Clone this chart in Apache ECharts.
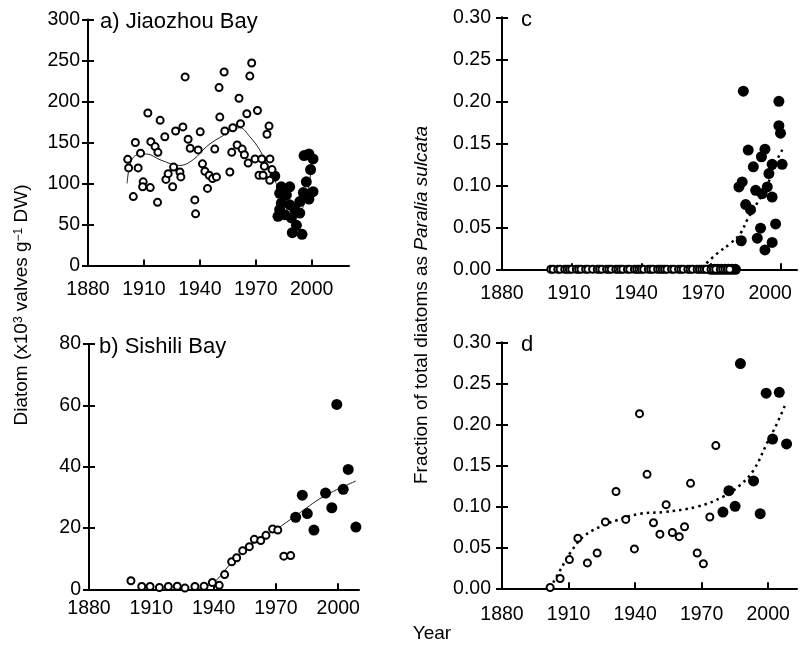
<!DOCTYPE html>
<html>
<head>
<meta charset="utf-8">
<script src="https://cdn.jsdelivr.net/npm/echarts@6/dist/echarts.min.js"></script>
<style>
  html, body { margin:0; padding:0; background:#fff; }
  #chart { width:808px; height:652px; }
</style>
</head>
<body>
<div id="chart"></div>
<script>
const FONT = '"Liberation Sans", Arial, sans-serif'

/* tick labels */
const xTicks = [1880, 1910, 1940, 1970, 2000]
const aTicks = [0, 50, 100, 150, 200, 250, 300]
const bTicks = [0, 20, 40, 60, 80]
const fracTicks = [0, 0.05, 0.1, 0.15, 0.2, 0.25, 0.3]

/* a) Jiaozhou Bay : [year, diatom] */
const aOpen = [
  [1901.3,129.5],[1901.8,119],[1904.3,84],[1905.4,150],[1906.9,119],[1908.2,137],[1909.6,102],[1909.3,96],
  [1912.1,186],[1913.4,95],[1913.7,151],[1916,145],[1917.5,138],[1917.3,77],[1918.7,177],[1921.2,157],
  [1921.8,105],[1923,112],[1925.4,96],[1925.9,120],[1927,164],[1929.3,114],[1929.8,108],[1930.9,169],
  [1932.1,230],[1933.7,154],[1934.8,143],[1937.3,80],[1937.7,63],[1939.1,141],[1940.2,163],[1941.4,124],
  [1942.7,115],[1944.1,94],[1945,110],[1946.8,106],[1948,142],[1948.9,108],[1950.3,217],[1950.7,181],
  [1953,236],[1961,204],[1966.8,231],[1967.8,247],[1970.9,189],[1965.2,185],[1977.1,170],[1976,160],
  [1953.4,164],[1957.7,168],[1961.8,173],[1960,147],[1962.7,142],[1957.1,138],[1963.9,135],[1965.9,125],
  [1969.6,130],[1973.2,130],[1977.6,130],[1974.6,121],[1978.7,117],[1956.1,114],[1971.7,110],[1973.9,110],
  [1977.5,104]
]
const aFilled = [
  [1980.2,109],[1998.5,136],[1995.9,134],[2000.7,130],[1999.4,117],[1997.1,102],[2000.7,90],[1995.5,89],
  [1998.5,81],[1993.6,78],[1988.2,96],[1983.7,96],[1982.8,88],[1986.4,86],[1983.7,76],[1988.2,74],
  [1990.9,68],[1993.6,64],[1981.9,60],[1985.5,62],[1989.1,58],[1991.8,49],[1989.6,40],[1994.8,38],[1982.8,68]
]
const aTrend = [
  [1901,100],[1904.3,132],[1911.4,136],[1918.6,129],[1929.3,122],[1936.4,129],[1943.6,145],[1950.7,156],
  [1961.4,168],[1966.8,157],[1972.1,141],[1976.6,120],[1981,100],[1988.2,72],[1991.8,64],[1995.5,72],
  [1998.9,104],[2000.5,137]
]

/* b) Sishili Bay */
const bOpen = [
  [1900.2,2.8],[1905.4,0.9],[1909.4,0.9],[1913.9,0.6],[1918.2,0.9],[1922.5,1.0],[1926.2,0.4],[1931,0.9],
  [1935.4,1.0],[1939.4,2.2],[1942.7,1.3],[1945.3,4.8],[1948.7,9.0],[1951.1,10.3],[1954,12.6],[1957.2,13.9],
  [1959.6,16.3],[1962.7,15.9],[1965.2,17.6],[1968.4,19.7],[1970.9,19.3],[1973.8,10.8],[1977.1,11.0]
]
const bFilled = [
  [1979.5,23.5],[1982.7,30.7],[1985.1,24.7],[1988.3,19.3],[1993.9,31.4],[1996.9,26.6],[1999.3,60.3],
  [2002.4,32.6],[2004.8,39.1],[2008.5,20.3]
]
const bTrend = [[1933,0.3],[1940,2.2],[1948.7,8.7],[1959,15],[1970,19.5],[1980,24.2],[1992.8,30.2],[2008.5,35.3]]

/* c) Jiaozhou Bay, Paralia sulcata fraction */
const cZeroOpen = [
  1901,1902,1904,1905,1907,1908,1909,1910,1912,1913,1914,1916,1917,1919,1921,1922,1923,1925,1926,1927,
  1929,1930,1931,1932,1934,1935,1937,1938,1939,1940,1941,1943,1944,1945,1947,1948,1949,1950,1951,1953,
  1954,1956,1957,1958,1960,1961,1962,1964,1965,1966,1967,1968,1970,1971,1972,1974,1975,1976,1977,1978
]
const cZeroFilled = [1970, 1971.5, 1973, 1974.5, 1976, 1977.5, 1979, 1980.5]
const cFilled = [
  [1983.9,0.212],[1999.2,0.200],[1999.2,0.171],[1999.9,0.162],[1986,0.142],[1993.2,0.143],[1991.7,0.134],
  [1988.2,0.122],[1996.3,0.125],[2000.6,0.125],[1994.9,0.114],[1982,0.098],[1983.4,0.104],[1989.2,0.094],
  [1992,0.090],[1996.3,0.086],[1994.2,0.098],[1984.9,0.077],[1987,0.071],[1997.8,0.054],[1991.3,0.049],
  [1983,0.034],[1989.9,0.037],[1996.3,0.032],[1993.2,0.023]
]
const cTrend = [[1966,0.002],[1972.7,0.019],[1978.4,0.031],[1982.7,0.043],[1985.6,0.059],[1989.9,0.079],[1994.2,0.100],[1997,0.122],[2001,0.144]]

/* d) Sishili Bay, Paralia sulcata fraction */
const dOpen = [
  [1901.7,0.001],[1906.2,0.012],[1910.4,0.035],[1914.2,0.061],[1918.5,0.031],[1922.9,0.043],[1926.6,0.081],
  [1931.4,0.118],[1935.8,0.084],[1939.7,0.048],[1942,0.213],[1945.4,0.139],[1948.3,0.080],[1951.2,0.066],
  [1954,0.102],[1956.8,0.068],[1959.9,0.063],[1962.3,0.075],[1965,0.128],[1968,0.043],[1970.8,0.030],
  [1973.7,0.087],[1976.4,0.174]
]
const dFilled = [
  [1979.6,0.093],[1982.3,0.119],[1985.1,0.100],[1987.5,0.274],[1993.4,0.131],[1996.4,0.091],[1999.1,0.238],
  [2002,0.182],[2005,0.239],[2008.3,0.176]
]
const dTrend = [
  [1901.7,0],[1906.2,0.022],[1910.7,0.043],[1916.7,0.063],[1924.2,0.075],[1931.8,0.083],[1942.3,0.091],
  [1952.8,0.093],[1967.9,0.0995],[1979.9,0.112],[1987.4,0.126],[1993.4,0.144],[1999.5,0.177],[2004,0.201],[2007.7,0.224]
]

/* ---- helpers ---- */
const black = '#000'
const FS = 19.5
function xAx(gi, max, margin, noLabel) {
  return {
    type:'value', gridIndex:gi, min:1880, max:max, interval:30, position:'bottom',
    axisLine:{ lineStyle:{ color:black, width:2 } },
    axisTick:{ inside:true, length:6, customValues:xTicks, lineStyle:{ color:black, width:2 } },
    axisLabel:{ show:!noLabel, customValues:xTicks, fontSize:FS, color:black, fontFamily:FONT, margin:margin, formatter:v => String(v) },
    splitLine:{ show:false }
  }
}
// label-only axis (panel c prints its year labels slightly off its ticks)
function xLab(gi, max, margin) {
  return {
    type:'value', gridIndex:gi, min:1880, max:max, position:'bottom', offset:0,
    axisLine:{ show:false }, axisTick:{ show:false }, splitLine:{ show:false },
    axisLabel:{ customValues:xTicks, fontSize:FS, color:black, fontFamily:FONT, margin:margin, formatter:v => String(v) }
  }
}
function yAx(gi, ticks, max, margin, fmt) {
  return {
    type:'value', gridIndex:gi, min:0, max:max,
    axisLine:{ show:true, lineStyle:{ color:black, width:2 } },
    axisTick:{ show:true, inside:true, length:6, customValues:ticks, lineStyle:{ color:black, width:2 } },
    axisLabel:{ customValues:ticks, fontSize:FS, color:black, fontFamily:FONT, margin:margin, formatter:fmt || (v => String(v)) },
    splitLine:{ show:false }
  }
}
// second axis: only the outer half of the crossing ticks
function yOut(gi, ticks, max) {
  return {
    type:'value', gridIndex:gi, min:0, max:max, position:'left',
    axisLine:{ show:false },
    axisTick:{ show:true, inside:false, length:6, customValues:ticks, lineStyle:{ color:black, width:2 } },
    axisLabel:{ show:false },
    splitLine:{ show:false }
  }
}
function open(xi, yi, data, size) {
  return { type:'scatter', xAxisIndex:xi, yAxisIndex:yi, data:data, symbolSize:size || 7, z:4,
    itemStyle:{ color:'#fff', borderColor:black, borderWidth:2, opacity:1 } }
}
function filled(xi, yi, data) {
  return { type:'scatter', xAxisIndex:xi, yAxisIndex:yi, data:data, symbolSize:11, z:3,
    itemStyle:{ color:black, opacity:1 } }
}
function trend(xi, yi, data, dotted) {
  return { type:'line', xAxisIndex:xi, yAxisIndex:yi, data:data, smooth:0.4, showSymbol:false, z:2,
    lineStyle: dotted ? { color:black, width:2.5, type:[2.5,4] } : { color:'#222', width:1 } }
}
const frac = v => v.toFixed(2)
const zeroOpen = cZeroOpen.map(y => [y, 0])
const zeroFilled = cZeroFilled.map(y => [y, 0])
const titleStyle = { fontSize:22, fontWeight:'normal', color:black, fontFamily:FONT }

const chart = echarts.init(document.getElementById('chart'))
chart.setOption({
  animation:false,
  textStyle:{ fontFamily:FONT },
  grid:[
    { left:88, top:19.5, width:261, height:246, outerBoundsMode:'none' },
    { left:89, top:344, width:270, height:245.3, outerBoundsMode:'none' },
    { left:502, top:17.3, width:295, height:252, outerBoundsMode:'none' },
    { left:502, top:342.3, width:295, height:246, outerBoundsMode:'none' }
  ],
  xAxis:[ xAx(0, 2020, 14), xAx(1, 2010, 9), xAx(2, 2007, 14, true), xAx(3, 2013, 16), xLab(2, 2012, 14) ],
  yAxis:[
    yAx(0, aTicks, 300, 8), yAx(1, bTicks, 80, 8), yAx(2, fracTicks, 0.3, 11, frac), yAx(3, fracTicks, 0.3, 11, frac),
    yOut(0, aTicks, 300), yOut(1, bTicks, 80), yOut(2, fracTicks, 0.3), yOut(3, fracTicks, 0.3)
  ],
  title:[
    { text:'a) Jiaozhou Bay', left:95, top:6, textStyle:titleStyle },
    { text:'b) Sishili Bay', left:94, top:331, textStyle:titleStyle },
    { text:'c', left:516, top:4, textStyle:titleStyle },
    { text:'d', left:516, top:329, textStyle:titleStyle }
  ],
  graphic:[
    { type:'text', x:22, y:305, rotation:Math.PI/2,
      style:{ text:'Diatom (x10{sup|3} valves g{sup|−1} DW)', align:'center', verticalAlign:'middle',
        fontSize:19, fontFamily:FONT, fill:black,
        rich:{ sup:{ fontSize:12, verticalAlign:'top', fontFamily:FONT, fill:black } } } },
    { type:'text', x:422, y:305, rotation:Math.PI/2,
      style:{ text:'Fraction of total diatoms as {i|Paralia sulcata}', align:'center', verticalAlign:'middle',
        fontSize:19, fontFamily:FONT, fill:black,
        rich:{ i:{ fontSize:19, fontStyle:'italic', fontFamily:FONT, fill:black } } } },
    { type:'text', x:432, y:634, style:{ text:'Year', align:'center', verticalAlign:'middle', fontSize:19, fontFamily:FONT, fill:black } }
  ],
  series:[
    trend(0, 0, aTrend), open(0, 0, aOpen), filled(0, 0, aFilled),
    trend(1, 1, bTrend), open(1, 1, bOpen), filled(1, 1, bFilled),
    trend(2, 2, cTrend, true), filled(2, 2, zeroFilled), open(2, 2, zeroOpen), filled(2, 2, cFilled),
    trend(3, 3, dTrend, true), open(3, 3, dOpen), filled(3, 3, dFilled)
  ]
})
</script>
</body>
</html>
